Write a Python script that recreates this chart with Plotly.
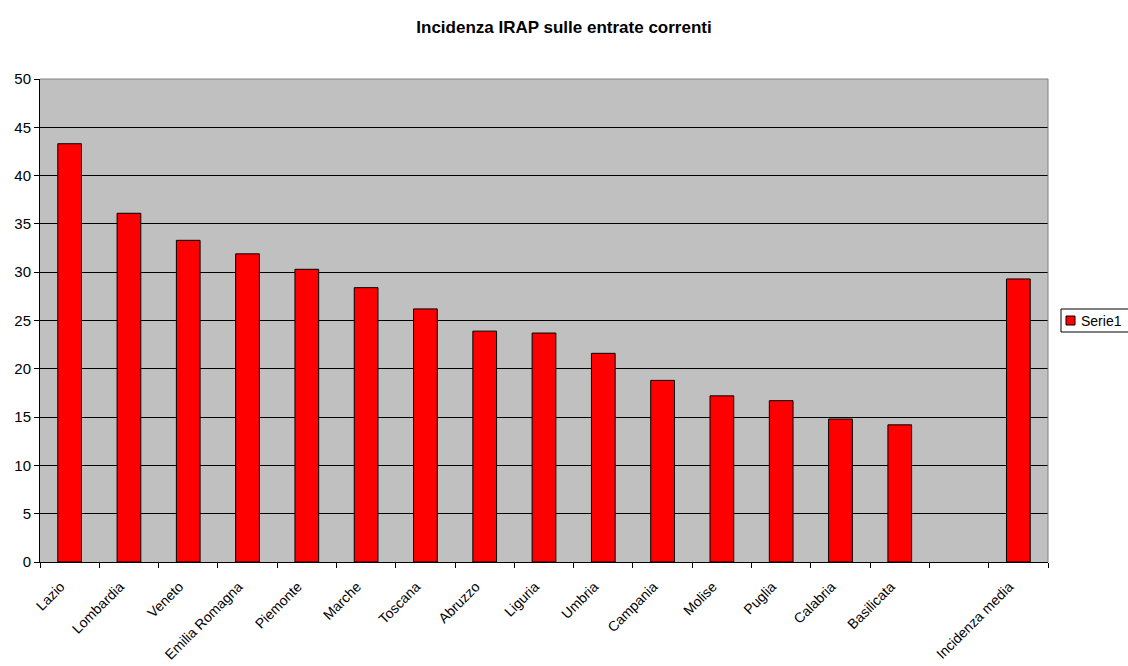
import plotly.graph_objects as go

# Regional IRAP incidence on current revenues (%), plus the national average
regions = ["Lazio", "Lombardia", "Veneto", "Emilia Romagna", "Piemonte", "Marche",
           "Toscana", "Abruzzo", "Liguria", "Umbria", "Campania", "Molise",
           "Puglia", "Calabria", "Basilicata", " ", "Incidenza media"]
incidenza = [43.3, 36.1, 33.3, 31.9, 30.3, 28.4, 26.2, 23.9, 23.7, 21.6, 18.8,
             17.2, 16.7, 14.8, 14.2, None, 29.3]
y_ticks = [0, 5, 10, 15, 20, 25, 30, 35, 40, 45, 50]
series_name = "Serie1"

FONT = "Liberation Sans, Arial, sans-serif"
W, H = 1128, 666
L, R, T, B = 40, 80, 79, 104
PW, PH = W - L - R, H - T - B


def px_x(px):
    """Convert a horizontal pixel position to paper coordinates."""
    return (px - L) / PW


def px_y(py):
    """Convert a vertical pixel position (from top) to paper coordinates."""
    return (H - B - py) / PH


fig = go.Figure()
fig.add_trace(go.Bar(
    x=regions,
    y=incidenza,
    name=series_name,
    width=0.4,
    marker=dict(color="#FF0000", line=dict(color="#000000", width=1)),
    showlegend=False,
))

fig.update_layout(
    width=W,
    height=H,
    margin=dict(l=L, r=R, t=T, b=B, autoexpand=False),
    paper_bgcolor="#FFFFFF",
    plot_bgcolor="#C0C0C0",
    font=dict(family=FONT, size=14, color="#000000"),
    title=dict(
        text="<b>Incidenza IRAP sulle entrate correnti</b>",
        x=0.5, xanchor="center",
        y=1 - 27 / H, yanchor="middle",
        font=dict(family=FONT, size=17, color="#000000"),
    ),
    showlegend=False,
)

fig.update_xaxes(
    type="category",
    categoryorder="array",
    categoryarray=regions,
    tickangle=-45,
    tickson="boundaries",
    ticks="outside",
    ticklen=5,
    tickcolor="#000000",
    ticklabelshift=-9,
    ticklabelstandoff=10,
    showgrid=False,
    showline=True,
    linecolor="#000000",
    linewidth=1,
    tickfont=dict(family=FONT, size=14),
    zeroline=False,
)

fig.update_yaxes(
    range=[0, 50],
    tickvals=y_ticks,
    ticks="outside",
    ticklen=5,
    tickcolor="#000000",
    showgrid=True,
    gridcolor="#000000",
    gridwidth=1,
    showline=True,
    linecolor="#000000",
    linewidth=1,
    zeroline=False,
    tickfont=dict(family=FONT, size=15),
)

# Gray frame along the top and right edges of the plotting area
fig.add_shape(
    type="path",
    xref="paper", yref="paper",
    path="M 0,1 L 1,1 L 1,0",
    line=dict(color="#808080", width=1),
    layer="above",
)

# Legend box with the series key, to the right of the plot
fig.add_shape(
    type="rect", xref="paper", yref="paper",
    x0=px_x(1061), x1=px_x(1140), y0=px_y(332), y1=px_y(309),
    fillcolor="#FFFFFF", line=dict(color="#000000", width=1),
    layer="above",
)
fig.add_shape(
    type="rect", xref="paper", yref="paper",
    x0=px_x(1066), x1=px_x(1075), y0=px_y(325), y1=px_y(316),
    fillcolor="#FF0000", line=dict(color="#000000", width=1),
    layer="above",
)
fig.add_annotation(
    xref="paper", yref="paper",
    x=px_x(1079), y=px_y(320.5),
    xanchor="left", yanchor="middle",
    text=series_name, showarrow=False,
    font=dict(family=FONT, size=14, color="#000000"),
)

fig.write_html("out.html")
